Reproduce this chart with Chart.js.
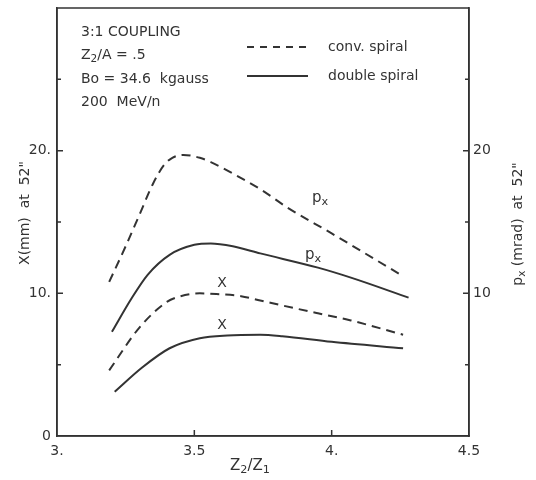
<!DOCTYPE html>
<html>
<head>
<meta charset="utf-8">
<script src="https://cdn.jsdelivr.net/npm/chart.js@4"></script>
<style>
  body { margin: 0; background: #fff; }
</style>
</head>
<body>
<canvas id="chart" width="536" height="480"></canvas>
<script>
// Z2/Z1 positions and values
const convPxX = [3.19, 3.25, 3.30, 3.35, 3.39, 3.42, 3.46, 3.52, 3.56, 3.64, 3.74, 3.84, 4.00, 4.26];
const convPxY = [10.8, 13.3, 15.5, 17.7, 19.0, 19.5, 19.7, 19.5, 19.2, 18.4, 17.3, 16.0, 14.2, 11.2];

const doublePxX = [3.20, 3.27, 3.33, 3.41, 3.50, 3.56, 3.64, 3.74, 3.95, 4.07, 4.28];
const doublePxY = [7.3, 9.6, 11.3, 12.7, 13.4, 13.5, 13.3, 12.8, 11.8, 11.1, 9.7];

const convXX = [3.19, 3.30, 3.40, 3.45, 3.52, 3.58, 3.67, 3.74, 3.82, 3.95, 4.07, 4.26];
const convXY = [4.6, 7.6, 9.4, 9.8, 10.0, 9.95, 9.8, 9.5, 9.15, 8.6, 8.1, 7.1];

const doubleXX = [3.21, 3.31, 3.41, 3.52, 3.62, 3.74, 3.82, 4.00, 4.26];
const doubleXY = [3.1, 4.8, 6.15, 6.85, 7.05, 7.1, 7.0, 6.6, 6.15];

const xTickLabels = { 3: "3.", 3.5: "3.5", 4: "4.", 4.5: "4.5" };
const leftTickLabels = { 0: "0", 10: "10.", 20: "20." };
const rightTickLabels = { 10: "10", 20: "20" };

const ink = "#333";
const font = "DejaVu Sans";

const pts = (xs, ys) => xs.map((x, i) => ({ x: x, y: ys[i] }));

const line = (data, dashed) => ({
  data: data,
  borderColor: ink,
  borderWidth: 2,
  borderDash: dashed ? [9, 6] : [],
  pointRadius: 0,
  fill: false,
  cubicInterpolationMode: "monotone"
});

// text with subscripts: parts = [[text, isSub], ...]
const partsWidth = (ctx, parts, size) => {
  let w = 0;
  parts.forEach(([t, sub]) => {
    ctx.font = (sub ? size * 0.75 : size) + "px " + font;
    w += ctx.measureText(t).width;
  });
  return w;
};

const drawParts = (ctx, parts, x, y, size) => {
  parts.forEach(([t, sub]) => {
    ctx.font = (sub ? size * 0.75 : size) + "px " + font;
    ctx.fillText(t, x, sub ? y + size * 0.3 : y);
    x += ctx.measureText(t).width;
  });
};

const drawCentered = (ctx, parts, cx, cy, size) => {
  const w = partsWidth(ctx, parts, size);
  drawParts(ctx, parts, cx - w / 2, cy, size);
};

const decorations = {
  id: "decorations",
  afterDraw(chart) {
    const ctx = chart.ctx;
    const area = chart.chartArea;
    const sx = chart.scales.x;
    const sy = chart.scales.y;
    const sy2 = chart.scales.y2;
    ctx.save();

    // frame
    ctx.strokeStyle = ink;
    ctx.lineWidth = 1.5;
    ctx.setLineDash([]);
    ctx.strokeRect(area.left, area.top, area.right - area.left, area.bottom - area.top);

    // inward tick marks
    ctx.beginPath();
    [3.5, 4].forEach(v => {
      const p = sx.getPixelForValue(v);
      ctx.moveTo(p, area.bottom);
      ctx.lineTo(p, area.bottom - 6);
    });
    [5, 10, 15, 20, 25].forEach(v => {
      const len = v % 10 === 0 ? 6 : 4;
      const p = sy.getPixelForValue(v);
      ctx.moveTo(area.left, p);
      ctx.lineTo(area.left + len, p);
      const q = sy2.getPixelForValue(v);
      ctx.moveTo(area.right, q);
      ctx.lineTo(area.right - len, q);
    });
    ctx.stroke();

    ctx.fillStyle = ink;
    ctx.textBaseline = "middle";

    // conditions block
    ctx.textAlign = "left";
    drawParts(ctx, [["3:1 COUPLING", false]], 81, 32, 14);
    drawParts(ctx, [["Z", false], ["2", true], ["/A = .5", false]], 81, 55, 14);
    drawParts(ctx, [["Bo = 34.6  kgauss", false]], 81, 79, 14);
    drawParts(ctx, [["200  MeV/n", false]], 81, 102, 14);

    // legend
    ctx.lineWidth = 1.8;
    ctx.beginPath();
    ctx.setLineDash([7, 6]);
    ctx.moveTo(247, 47);
    ctx.lineTo(308, 47);
    ctx.stroke();
    ctx.beginPath();
    ctx.setLineDash([]);
    ctx.moveTo(247, 76);
    ctx.lineTo(308, 76);
    ctx.stroke();
    drawParts(ctx, [["conv. spiral", false]], 328, 47, 14);
    drawParts(ctx, [["double spiral", false]], 328, 76, 14);

    // curve labels
    drawCentered(ctx, [["p", false], ["x", true]], 320, 198, 15);
    drawCentered(ctx, [["p", false], ["x", true]], 313, 255, 15);
    drawCentered(ctx, [["X", false]], 222, 283, 14);
    drawCentered(ctx, [["X", false]], 222, 325, 14);

    // axis titles
    drawCentered(ctx, [["Z", false], ["2", true], ["/Z", false], ["1", true]], 250, 466, 15);

    ctx.save();
    ctx.translate(25, 213);
    ctx.rotate(-Math.PI / 2);
    drawCentered(ctx, [["X(mm)  at  52\"", false]], 0, 0, 14);
    ctx.restore();

    ctx.save();
    ctx.translate(518, 224);
    ctx.rotate(-Math.PI / 2);
    drawCentered(ctx, [["p", false], ["x", true], [" (mrad)  at  52\"", false]], 0, 0, 14);
    ctx.restore();

    ctx.restore();
  }
};

const fitVertical = w => s => {
  s.width = w;
  s.paddingTop = 0;
  s.paddingBottom = 0;
};

new Chart(document.getElementById("chart"), {
  type: "line",
  data: {
    datasets: [
      line(pts(convPxX, convPxY), true),
      line(pts(doublePxX, doublePxY), false),
      line(pts(convXX, convXY), true),
      line(pts(doubleXX, doubleXY), false)
    ]
  },
  options: {
    responsive: false,
    animation: false,
    layout: { padding: { top: 8 } },
    plugins: { legend: { display: false }, tooltip: { enabled: false } },
    scales: {
      x: {
        type: "linear",
        min: 3,
        max: 4.5,
        afterBuildTicks: s => { s.ticks = [3, 3.5, 4, 4.5].map(v => ({ value: v })); },
        afterFit: s => { s.height = 44; s.paddingLeft = 0; s.paddingRight = 0; },
        grid: { drawOnChartArea: false, drawTicks: false },
        border: { color: ink, width: 1.5 },
        ticks: {
          padding: 7,
          color: ink,
          font: { family: font, size: 14 },
          callback: v => xTickLabels[v] || ""
        }
      },
      y: {
        position: "left",
        min: 0,
        max: 30,
        afterBuildTicks: s => { s.ticks = [0, 10, 20].map(v => ({ value: v })); },
        afterFit: fitVertical(57),
        grid: { drawOnChartArea: false, drawTicks: false },
        border: { color: ink, width: 1.5 },
        ticks: {
          padding: 6,
          color: ink,
          font: { family: font, size: 14 },
          callback: v => leftTickLabels[v] || ""
        }
      },
      y2: {
        position: "right",
        min: 0,
        max: 30,
        afterBuildTicks: s => { s.ticks = [10, 20].map(v => ({ value: v })); },
        afterFit: fitVertical(67),
        grid: { drawOnChartArea: false, drawTicks: false },
        border: { color: ink, width: 1.5 },
        ticks: {
          padding: 4,
          color: ink,
          font: { family: font, size: 14 },
          callback: v => rightTickLabels[v] || ""
        }
      }
    }
  },
  plugins: [decorations]
});
</script>
</body>
</html>
